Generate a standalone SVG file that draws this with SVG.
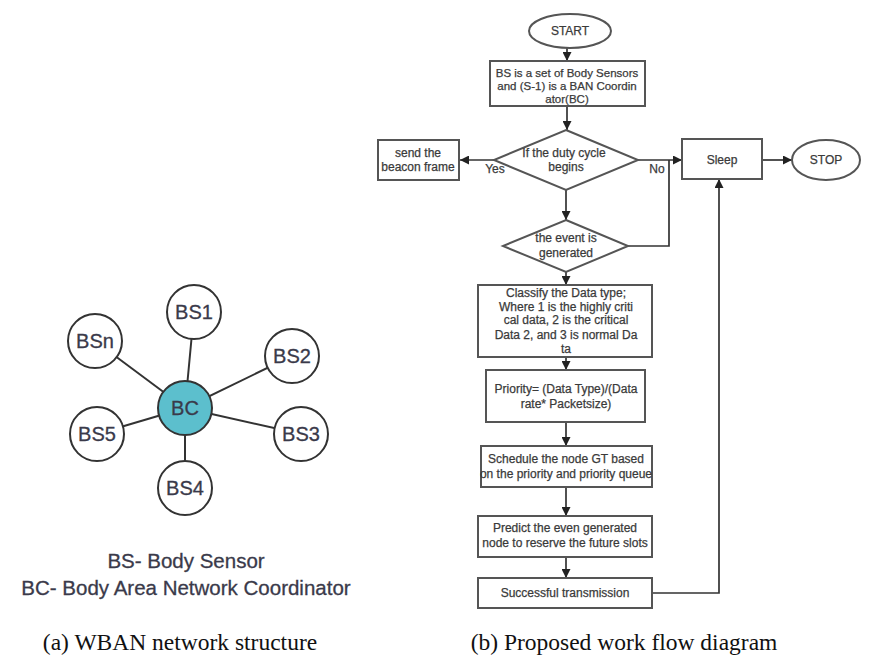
<svg xmlns="http://www.w3.org/2000/svg" width="869" height="659" viewBox="0 0 869 659">
<defs>
<marker id="arr" markerUnits="userSpaceOnUse" markerWidth="9" markerHeight="9" refX="9" refY="4.5" orient="auto">
<path d="M0,0 L9,4.5 L0,9 z" fill="#222"/>
</marker>
<style>
.bg{fill:#fff}
.shape{fill:#fff;stroke:#555;stroke-width:2}
.ft{font-family:"Liberation Sans",Arial,sans-serif;font-size:12px;fill:#3a3a3a;stroke:#3a3a3a;stroke-width:0.25;text-anchor:middle}
.ft3{font-size:11.5px}
.conn{fill:none;stroke:#333;stroke-width:1.7}
.edge{stroke:#333;stroke-width:2}
.bs{fill:#fff;stroke:#333;stroke-width:2}
.bc{fill:#5cbfcd;stroke:#333;stroke-width:2}
.nt{font-family:"Liberation Sans",Arial,sans-serif;font-size:20px;fill:#3a3a4a;stroke:#3a3a4a;stroke-width:0.3;text-anchor:middle}
.leg{font-family:"Liberation Sans",Arial,sans-serif;font-size:20.5px;fill:#3a3a4a;stroke:#3a3a4a;stroke-width:0.3;text-anchor:middle}
.cap{font-family:"Liberation Serif","Times New Roman",serif;font-size:23.5px;fill:#111;text-anchor:middle}
</style>
</defs>
<rect class="bg" x="0" y="0" width="869" height="659"/>

<!-- Network structure -->
<g id="net-edges">
<line class="edge" x1="185" y1="408" x2="194" y2="312"/>
<line class="edge" x1="185" y1="408" x2="292" y2="356"/>
<line class="edge" x1="185" y1="408" x2="301" y2="434"/>
<line class="edge" x1="185" y1="408" x2="185" y2="488"/>
<line class="edge" x1="185" y1="408" x2="97" y2="434"/>
<line class="edge" x1="185" y1="408" x2="95" y2="341"/>
</g>
<g id="BC"><circle class="bc" cx="185" cy="408" r="27"/><text class="nt" x="185" y="415">BC</text></g>
<g id="BS1"><circle class="bs" cx="194" cy="312" r="27"/><text class="nt" x="194" y="319">BS1</text></g>
<g id="BS2"><circle class="bs" cx="292" cy="356" r="27"/><text class="nt" x="292" y="363">BS2</text></g>
<g id="BS3"><circle class="bs" cx="301" cy="434" r="27"/><text class="nt" x="301" y="441">BS3</text></g>
<g id="BS4"><circle class="bs" cx="185" cy="488" r="27"/><text class="nt" x="185" y="495">BS4</text></g>
<g id="BS5"><circle class="bs" cx="97" cy="434" r="27"/><text class="nt" x="97" y="441">BS5</text></g>
<g id="BSn"><circle class="bs" cx="95" cy="341" r="27"/><text class="nt" x="95" y="348">BSn</text></g>
<g id="legend">
<text class="leg" x="186" y="568">BS- Body Sensor</text>
<text class="leg" x="186" y="595">BC- Body Area Network Coordinator</text>
</g>
<text class="cap" x="180" y="650">(a) WBAN network structure</text>
<text class="cap" x="624" y="650">(b) Proposed work flow diagram</text>

<!-- Flowchart connectors -->
<g id="connectors">
<line class="conn" x1="567" y1="48" x2="567" y2="61" marker-end="url(#arr)"/>
<line class="conn" x1="567" y1="106" x2="567" y2="130" marker-end="url(#arr)"/>
<line class="conn" x1="494" y1="160" x2="460" y2="160" marker-end="url(#arr)"/>
<line class="conn" x1="638" y1="160" x2="682" y2="160" marker-end="url(#arr)"/>
<line class="conn" x1="566" y1="190" x2="566" y2="220" marker-end="url(#arr)"/>
<polyline class="conn" points="628,246 669,246 669,160"/>
<line class="conn" x1="566" y1="272" x2="566" y2="285" marker-end="url(#arr)"/>
<line class="conn" x1="566" y1="357" x2="566" y2="370" marker-end="url(#arr)"/>
<line class="conn" x1="566" y1="422" x2="566" y2="446" marker-end="url(#arr)"/>
<line class="conn" x1="566" y1="487" x2="566" y2="516" marker-end="url(#arr)"/>
<line class="conn" x1="566" y1="557" x2="566" y2="578" marker-end="url(#arr)"/>
<polyline class="conn" points="652,593 719,593 719,179" marker-end="url(#arr)"/>
<line class="conn" x1="762" y1="160" x2="792" y2="160" marker-end="url(#arr)"/>
<text class="ft" x="495" y="173">Yes</text>
<text class="ft" x="657" y="173">No</text>
</g>

<!-- Flowchart nodes -->
<g id="start"><ellipse class="shape" cx="570" cy="31" rx="41" ry="17"/><text class="ft" x="570" y="35">START</text></g>
<g id="init"><rect class="shape" x="490" y="61" width="155" height="45"/>
<text class="ft ft3" x="567" y="77">BS is a set of Body Sensors</text>
<text class="ft ft3" x="567" y="90">and (S-1) is a BAN Coordin</text>
<text class="ft ft3" x="567" y="103">ator(BC)</text></g>
<g id="duty"><polygon class="shape" points="566,130 638,160 566,190 494,160"/>
<text class="ft" x="564" y="157">If the duty cycle</text>
<text class="ft" x="566" y="171">begins</text></g>
<g id="beacon"><rect class="shape" x="378" y="140" width="81" height="40"/>
<text class="ft" x="418" y="157">send the</text>
<text class="ft" x="418" y="171">beacon frame</text></g>
<g id="sleep"><rect class="shape" x="682" y="139" width="80" height="40"/><text class="ft" x="722" y="164">Sleep</text></g>
<g id="stop"><ellipse class="shape" cx="826" cy="160" rx="34" ry="20"/><text class="ft" x="826" y="164">STOP</text></g>
<g id="event"><polygon class="shape" points="566,220 628,246 566,272 503,246"/>
<text class="ft" x="566" y="242">the event is</text>
<text class="ft" x="566" y="257">generated</text></g>
<g id="classify"><rect class="shape" x="478" y="285" width="174" height="72"/>
<text class="ft" x="566" y="297">Classify the Data type;</text>
<text class="ft" x="566" y="311">Where 1 is the highly criti</text>
<text class="ft" x="566" y="324">cal data, 2 is the critical</text>
<text class="ft" x="566" y="339">Data 2, and 3 is normal Da</text>
<text class="ft" x="566" y="353">ta</text></g>
<g id="priority"><rect class="shape" x="486" y="370" width="159" height="52"/>
<text class="ft" x="566" y="393">Priority= (Data Type)/(Data</text>
<text class="ft" x="566" y="408">rate* Packetsize)</text></g>
<g id="schedule"><rect class="shape" x="481" y="446" width="171" height="41"/>
<text class="ft" x="566" y="463">Schedule  the node GT based</text>
<text class="ft" x="566" y="478">on the priority and priority queue</text></g>
<g id="predict"><rect class="shape" x="478" y="516" width="174" height="41"/>
<text class="ft" x="565" y="532">Predict the even generated</text>
<text class="ft" x="565" y="547">node to reserve the future slots</text></g>
<g id="success"><rect class="shape" x="478" y="578" width="174" height="30"/>
<text class="ft" x="565" y="597">Successful transmission</text></g>
</svg>
